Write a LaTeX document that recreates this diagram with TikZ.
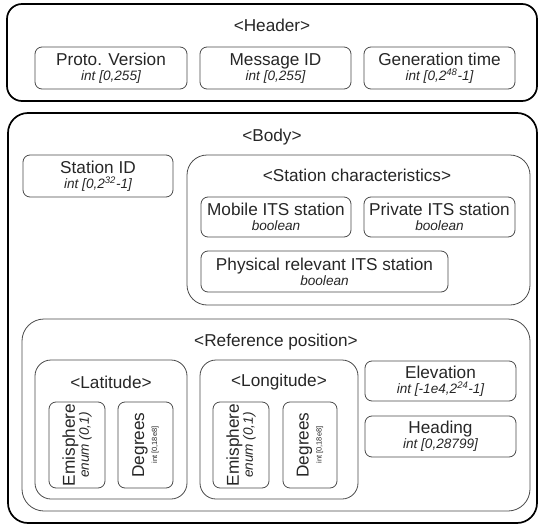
\documentclass[tikz,border=0pt]{standalone}
\usepackage{fontspec}
\setmainfont{Liberation Sans}
\definecolor{ink}{HTML}{262626}
\definecolor{edge}{HTML}{4A4A4A}
\tikzset{
  outerbox/.style={draw=black, line width=1.7pt, rounded corners=15pt, inner sep=0pt},
  groupbox/.style={draw=edge, line width=0.8pt, rounded corners=18pt, inner sep=0pt},
  leafbox/.style={draw=edge, line width=0.8pt, rounded corners=7pt, inner sep=0pt, align=center, text=ink, font=\fontsize{17.2}{16}\selectfont},
  title/.style={text=ink, font=\fontsize{17.2}{18}\selectfont, inner sep=0pt},
}
\newcommand{\subl}[1]{{\fontsize{13.6}{15}\selectfont\itshape #1}}
\newcommand{\tinyl}[1]{{\fontsize{7.5}{8}\selectfont #1}}
\begin{document}
\begin{tikzpicture}[x=1pt,y=-1pt]
\useasboundingbox (0,0) rectangle (539,525);
% Header
\node[outerbox, minimum width=530, minimum height=97] (header) at (272,52.5) {};
\node[title] (htitle) at (272,25) {<Header>};
\node[leafbox, minimum width=152, minimum height=42] (proto) at (111,68) {Proto. Version\\[-1pt]\subl{int [0,255]}};
\node[leafbox, minimum width=151, minimum height=42] (msgid) at (275.5,68) {Message ID\\[-1pt]\subl{int [0,255]}};
\node[leafbox, minimum width=151, minimum height=42] (gentime) at (439.5,68) {Generation time\\[-1pt]\subl{int [0,2\textsuperscript{48}-1]}};
% Body
\node[outerbox, rounded corners=20pt, minimum width=529, minimum height=410] (body) at (272.5,318) {};
\node[title] (btitle) at (272,137) {<Body>};
\node[leafbox, minimum width=150, minimum height=42] (stationid) at (98,176) {Station ID\\[-1pt]\subl{int [0,2\textsuperscript{32}-1]}};
% Station characteristics
\node[groupbox, rounded corners=20pt, minimum width=343, minimum height=150] (stchar) at (358.5,230) {};
\node[title] (sctitle) at (357,175) {<Station characteristics>};
\node[leafbox, minimum width=150, minimum height=40] (mobile) at (276,217) {Mobile ITS station\\[-1pt]\subl{boolean}};
\node[leafbox, minimum width=151, minimum height=40] (private) at (439.5,217) {Private ITS station\\[-1pt]\subl{boolean}};
\node[leafbox, minimum width=247, minimum height=41] (physical) at (324.5,271.5) {Physical relevant ITS station\\[-1pt]\subl{boolean}};
% Reference position
\node[groupbox, rounded corners=22pt, minimum width=508, minimum height=192] (refpos) at (276,415) {};
\node[title] (rptitle) at (276,342) {<Reference position>};
% Latitude
\node[groupbox, rounded corners=16pt, minimum width=152, minimum height=139] (lat) at (111,429.5) {};
\node[title] (lattitle) at (111,382) {<Latitude>};
\node[leafbox, rotate=90, minimum width=86, minimum height=56] (latemi) at (77,445) {Emisphere\\[-2pt]\subl{enum (0,1)}};
\node[leafbox, rotate=90, minimum width=86, minimum height=55] (latdeg) at (145.5,445) {Degrees\\[-3pt]\tinyl{int [0,18e8]}};
% Longitude
\node[groupbox, rounded corners=16pt, minimum width=158, minimum height=139] (lon) at (279,429.5) {};
\node[title] (lontitle) at (279,382) {<Longitude>};
\node[leafbox, rotate=90, minimum width=86, minimum height=56] (lonemi) at (241,445) {Emisphere\\[-2pt]\subl{enum (0,1)}};
\node[leafbox, rotate=90, minimum width=86, minimum height=54] (londeg) at (310,445) {Degrees\\[-3pt]\tinyl{int [0,18e8]}};
% Elevation and heading
\node[leafbox, minimum width=151, minimum height=40] (elev) at (440.5,381) {Elevation\\[-1pt]\subl{int [-1e4,2\textsuperscript{24}-1]}};
\node[leafbox, minimum width=151, minimum height=41] (heading) at (440.5,436.5) {Heading\\[-1pt]\subl{int [0,28799]}};
\end{tikzpicture}
\end{document}
